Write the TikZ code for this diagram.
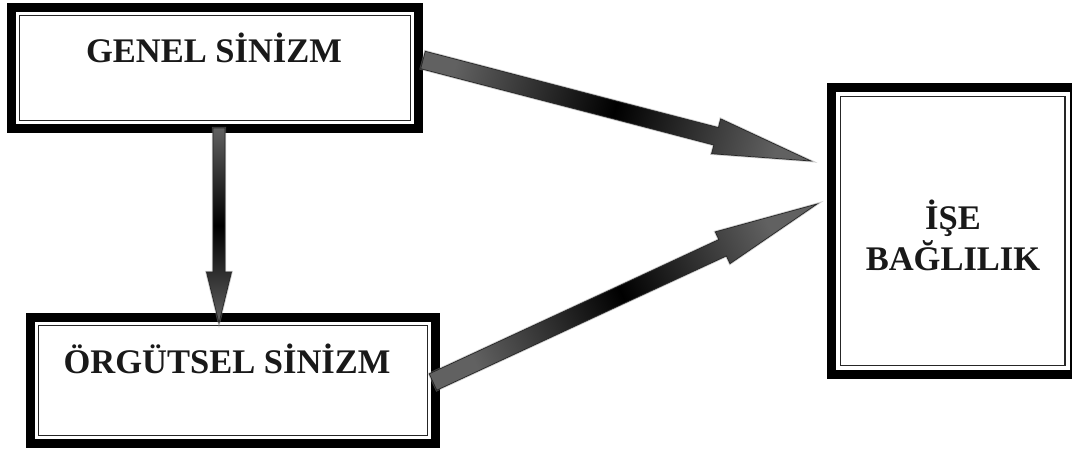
\documentclass[tikz,border=0pt]{standalone}
\usepackage{fontspec}
\setmainfont{Liberation Serif}
\usetikzlibrary{calc}

% Fat shaded arrow between two named points:
% #1 start, #2 tip, #3 half shaft width, #4 half head width, #5 head length (all pt)
\newcommand\fatarrow[5]{%
  \path let \p1=(#1), \p2=(#2) in
    \pgfextra{%
      \pgfmathsetmacro\fatang{atan2(\y2-\y1,\x2-\x1)}%
      \pgfmathsetmacro\fatlen{veclen(\x2-\x1,\y2-\y1)}%
      \pgfmathsetmacro\fatbase{\fatlen-#5}%
      \global\let\fatang\fatang
      \global\let\fatlen\fatlen
      \global\let\fatbase\fatbase};
  \begin{scope}[shift={(#1)}, rotate=\fatang]
    \shade[arrowbody, shading angle=\fatang+90]
      (0pt,#3 pt) -- (\fatbase pt,#3 pt) -- (\fatbase pt,#4 pt)
      -- (\fatlen pt,0pt)
      -- (\fatbase pt,-#4 pt) -- (\fatbase pt,-#3 pt) -- (0pt,-#3 pt) -- cycle;
  \end{scope}%
}

\tikzset{
  frame/.style={draw=black, line width=9pt, inner sep=0pt, fill=white},
  innerline/.style={draw=black!85, line width=1.6pt},
  label/.style={font=\fontsize{34.5}{41}\selectfont\bfseries, inner sep=0pt,
                text=black!90, align=center},
  arrowbody/.style={left color=black!62, right color=black!62, middle color=black,
                    draw=black!85, line width=0.7pt, line join=miter,
                    preaction={draw=black!45, line width=2.4pt, opacity=0.45}}
}

\begin{document}
\begin{tikzpicture}[x=1pt, y=-1pt]
  \useasboundingbox[fill=white] (0,0) rectangle (1072,448);

  % frames
  \node[frame, minimum width=407pt, minimum height=121pt] (gen) at (215,68) {};
  \node[frame, minimum width=405pt, minimum height=126pt] (org) at (233,380.5) {};
  \node[frame, minimum width=242.5pt, minimum height=287pt] (ise) at (952.75,231) {};

  \draw[innerline] ($(gen.north west)+(12.5,12.5)$) rectangle ($(gen.south east)+(-12.5,-12.5)$);
  \draw[innerline] ($(org.north west)+(12.5,12.5)$) rectangle ($(org.south east)+(-12.5,-12.5)$);
  \draw[innerline] ($(ise.north west)+(13.5,13.5)$) rectangle ($(ise.south east)+(-13.5,-13.5)$);

  % texts
  \node[label, anchor=base] (genT) at (214,62) {GENEL SİNİZM};
  \node[label, anchor=base] (orgT) at (227,373) {ÖRGÜTSEL SİNİZM};
  \node[label, anchor=center] (iseT) at (953,235) {İŞE\\BAĞLILIK};

  % arrow end points
  \coordinate (a1s) at ($(gen.east)+(0,-8)$);
  \coordinate (a1e) at ($(ise.west)+(-16,-70)$);
  \coordinate (a2s) at ($(org.east)+(-7,1.5)$);
  \coordinate (a2e) at ($(ise.west)+(-10,-27)$);
  \coordinate (a3s) at ($(gen.south)+(4,-5)$);
  \coordinate (a3e) at ($(org.north)+(-14,10)$);

  % arrows
  \fatarrow{a1s}{a1e}{9}{18}{98}
  \fatarrow{a2s}{a2e}{9}{17.5}{104}
  \fatarrow{a3s}{a3e}{6}{12.5}{51}
\end{tikzpicture}
\end{document}
